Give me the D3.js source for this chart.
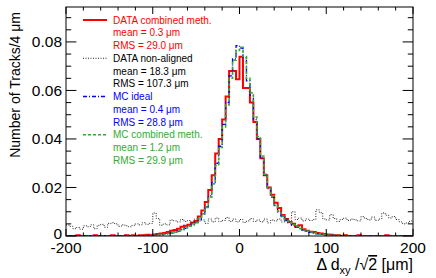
<!DOCTYPE html>
<html>
<head>
<meta charset="utf-8">
<script src="https://cdn.jsdelivr.net/npm/d3@7"></script>
<style>
  body { margin: 0; background: #fff; }
  svg { font-family: "Liberation Sans", Arial, sans-serif; }
  .tick-label { font-size: 15.5px; }
  .axis-title { font-size: 14px; }
  .legend-text { font-size: 10px; }
</style>
</head>
<body>
<div id="chart"></div>
<script>
// bin edges: 100 bins of 4 um from -200 to 200
var binLow = -200, binWidth = 4;

// DATA combined meth.
var dataCombined = [
  0, 0, 0, 0.0003, 0, 0, 0, 0, 0.0003, 0,
  0, 0, 0, 0.0003, 0, 0, 0, 0.0003, 0, 0.0003,
  0, 0.0003, 0.0003, 0.0005, 0.0003, 0.0006, 0.0008, 0.0010, 0.0012, 0.0016,
  0.0022, 0.0025, 0.0030, 0.0038, 0.0042, 0.0046, 0.0055, 0.0062, 0.0080, 0.0105,
  0.0140, 0.0190, 0.0250, 0.0340, 0.0400, 0.0480, 0.0575, 0.0680, 0.0680, 0.0646,
  0.0739, 0.0610, 0.0610, 0.0550, 0.0470, 0.0400, 0.0320, 0.0250, 0.0200, 0.0170,
  0.0137, 0.0115, 0.0087, 0.0070, 0.0058, 0.0050, 0.0040, 0.0044, 0.0028, 0.0022,
  0.0018, 0.0016, 0.0012, 0.0010, 0.0008, 0.0006, 0.0005, 0.0003, 0.0003, 0,
  0.0003, 0, 0, 0, 0.0003, 0, 0, 0, 0, 0,
  0, 0, 0.0003, 0, 0, 0, 0, 0, 0, 0
];

// DATA non-aligned
var dataNonAligned = [
  0.0045, 0.0040, 0.0030, 0.0035, 0.0028, 0.0042, 0.0038, 0.0046, 0.0030, 0.0044,
  0.0048, 0.0036, 0.0052, 0.0055, 0.0050, 0.0040, 0.0046, 0.0042, 0.0038, 0.0044,
  0.0050, 0.0046, 0.0055, 0.0048, 0.0052, 0.0095, 0.0072, 0.0044, 0.0050, 0.0046,
  0.0066, 0.0062, 0.0058, 0.0068, 0.0060, 0.0064, 0.0056, 0.0070, 0.0062, 0.0066,
  0.0052, 0.0070, 0.0058, 0.0074, 0.0060, 0.0064, 0.0076, 0.0060, 0.0070, 0.0058,
  0.0068, 0.0056, 0.0062, 0.0072, 0.0060, 0.0066, 0.0058, 0.0070, 0.0054, 0.0066,
  0.0062, 0.0070, 0.0058, 0.0072, 0.0064, 0.0100, 0.0068, 0.0074, 0.0062, 0.0070,
  0.0064, 0.0068, 0.0108, 0.0096, 0.0070, 0.0066, 0.0088, 0.0072, 0.0060, 0.0068,
  0.0074, 0.0064, 0.0070, 0.0066, 0.0062, 0.0080, 0.0072, 0.0066, 0.0078, 0.0064,
  0.0070, 0.0095, 0.0086, 0.0074, 0.0080, 0.0068, 0.0058, 0.0050, 0.0054, 0.0062
];

// MC ideal
var mcIdeal = [
  0, 0, 0, 0, 0, 0, 0, 0, 0, 0,
  0, 0, 0, 0, 0, 0, 0, 0.0002, 0, 0,
  0, 0, 0.0002, 0, 0.0002, 0.0003, 0.0004, 0.0005, 0.0007, 0.0009,
  0.0012, 0.0016, 0.0020, 0.0026, 0.0032, 0.0040, 0.0046, 0.0055, 0.0068, 0.0090,
  0.0120, 0.0165, 0.0220, 0.0300, 0.0370, 0.0460, 0.0550, 0.0660, 0.0730, 0.0785,
  0.0775, 0.0735, 0.0640, 0.0580, 0.0480, 0.0400, 0.0320, 0.0250, 0.0195, 0.0160,
  0.0125, 0.0100, 0.0080, 0.0064, 0.0054, 0.0044, 0.0036, 0.0030, 0.0024, 0.0019,
  0.0015, 0.0012, 0.0009, 0.0007, 0.0005, 0.0004, 0.0003, 0.0002, 0.0002, 0.0001,
  0, 0, 0, 0, 0, 0, 0, 0, 0, 0,
  0, 0, 0, 0, 0, 0, 0, 0, 0, 0
];

// MC combined meth.
var mcCombined = [
  0, 0, 0, 0, 0, 0, 0, 0, 0, 0,
  0, 0, 0, 0, 0, 0, 0, 0, 0, 0.0002,
  0, 0, 0, 0.0002, 0, 0.0003, 0.0004, 0.0006, 0.0007, 0.0010,
  0.0013, 0.0016, 0.0021, 0.0027, 0.0033, 0.0040, 0.0048, 0.0056, 0.0070, 0.0092,
  0.0118, 0.0160, 0.0215, 0.0290, 0.0365, 0.0450, 0.0540, 0.0650, 0.0725, 0.0765,
  0.0778, 0.0740, 0.0650, 0.0590, 0.0490, 0.0410, 0.0330, 0.0255, 0.0200, 0.0165,
  0.0128, 0.0102, 0.0082, 0.0066, 0.0055, 0.0046, 0.0038, 0.0031, 0.0025, 0.0020,
  0.0016, 0.0013, 0.0010, 0.0008, 0.0006, 0.0004, 0.0003, 0.0003, 0.0002, 0.0002,
  0, 0, 0, 0, 0, 0, 0, 0, 0, 0,
  0, 0, 0, 0, 0, 0, 0, 0, 0, 0
];

var xTicks = [-200, -100, 0, 100, 200];
var yTicks = [0, 0.02, 0.04, 0.06, 0.08];
var yTickLabels = ["0", "0.02", "0.04", "0.06", "0.08"];

// legend entries: name, mean, rms
var legendNames = ["DATA combined meth.", "DATA non-aligned", "MC ideal", "MC combined meth."];
var legendMeans = ["0.3", "18.3", "0.4", "1.2"];
var legendRms = ["29.0", "107.3", "28.8", "29.9"];

var width = 436, height = 278;
var margin = {top: 7, right: 23, bottom: 42, left: 66};
var plotW = width - margin.left - margin.right;
var plotH = height - margin.top - margin.bottom;

var series = [
  {values: dataCombined, color: "#ff0000", width: 2, dash: null},
  {values: dataNonAligned, color: "#222", width: 1, dash: "1,1.5"},
  {values: mcIdeal, color: "#0000ff", width: 1.3, dash: "4,2,1,2"},
  {values: mcCombined, color: "#33aa33", width: 1.6, dash: "3,2"}
];

var svg = d3.select("#chart").append("svg")
    .attr("width", width)
    .attr("height", height);

var x = d3.scaleLinear().domain([-200, 200]).range([0, plotW]);
var y = d3.scaleLinear().domain([0, 0.0944]).range([plotH, 0]);

var g = svg.append("g")
    .attr("transform", "translate(" + margin.left + "," + margin.top + ")");

g.append("clipPath").attr("id", "clip")
  .append("rect").attr("width", plotW).attr("height", plotH);

// histograms as step lines
var line = d3.line()
    .x(d => x(d[0]))
    .y(d => y(d[1]))
    .curve(d3.curveStepAfter);

series.forEach(function(s) {
  var pts = s.values.map((v, i) => [binLow + i * binWidth, v]);
  pts.push([binLow + s.values.length * binWidth, s.values[s.values.length - 1]]);
  g.append("path")
    .attr("clip-path", "url(#clip)")
    .attr("d", line(pts))
    .attr("fill", "none")
    .attr("stroke", s.color)
    .attr("stroke-width", s.width)
    .attr("stroke-dasharray", s.dash);
});

// frame
g.append("rect")
  .attr("width", plotW).attr("height", plotH)
  .attr("fill", "none").attr("stroke", "#000").attr("stroke-width", 1);

// ticks inside the frame, ROOT style
var xMajorLen = 7, xMinorLen = 3.5, yMajorLen = 10.4, yMinorLen = 5.2;
var xMinor = d3.range(-200, 201, 20);
var yMinor = d3.range(0, 0.0945, 0.005);

xMinor.forEach(function(v) {
  var len = (v % 100 === 0) ? xMajorLen : xMinorLen;
  g.append("line").attr("x1", x(v)).attr("x2", x(v))
    .attr("y1", plotH).attr("y2", plotH - len).attr("stroke", "#000");
  g.append("line").attr("x1", x(v)).attr("x2", x(v))
    .attr("y1", 0).attr("y2", len).attr("stroke", "#000");
});
yMinor.forEach(function(v, i) {
  var len = (i % 4 === 0) ? yMajorLen : yMinorLen;
  g.append("line").attr("x1", 0).attr("x2", len)
    .attr("y1", y(v)).attr("y2", y(v)).attr("stroke", "#000");
  g.append("line").attr("x1", plotW).attr("x2", plotW - len)
    .attr("y1", y(v)).attr("y2", y(v)).attr("stroke", "#000");
});

// tick labels
g.selectAll(".xlab").data(xTicks).enter().append("text")
  .attr("class", "tick-label")
  .attr("x", d => x(d)).attr("y", plotH + 16.5)
  .attr("text-anchor", "middle")
  .text(d => d);

// the "0" label sits just above the "-200" one, as in ROOT
g.selectAll(".ylab").data(yTicks).enter().append("text")
  .attr("class", "tick-label")
  .attr("x", -4).attr("y", d => y(d) + (d === 0 ? 2.5 : 5.5))
  .attr("text-anchor", "end")
  .text((d, i) => yTickLabels[i]);

// axis titles
svg.append("text")
  .attr("class", "axis-title")
  .attr("transform", "translate(20,12) rotate(-90)")
  .attr("text-anchor", "end")
  .text("Number of Tracks/4 \u03bcm");

var xt = svg.append("text")
  .attr("class", "axis-title")
  .style("font-size", "16px")
  .attr("x", margin.left + plotW).attr("y", 270)
  .attr("text-anchor", "end");
xt.append("tspan").text("\u0394 d");
xt.append("tspan").attr("dy", 4).style("font-size", "11px").text("xy");
xt.append("tspan").attr("dy", -4).text(" /\u221a");
xt.append("tspan").attr("text-decoration", "overline").text("2");
xt.append("tspan").text(" [\u03bcm]");

// legend
var legX = 83, legTextX = 113, legY = 20, lineStep = 12.75;
legendNames.forEach(function(name, i) {
  var s = series[i];
  var yy = legY + i * 3 * lineStep;
  svg.append("line")
    .attr("x1", legX).attr("x2", legX + 24)
    .attr("y1", yy).attr("y2", yy)
    .attr("stroke", s.color).attr("stroke-width", s.width)
    .attr("stroke-dasharray", s.dash);
  var textColor = i === 1 ? "#000" : s.color;
  var rows = [name, "mean = " + legendMeans[i] + " \u03bcm", "RMS = " + legendRms[i] + " \u03bcm"];
  rows.forEach(function(r, j) {
    svg.append("text")
      .attr("class", "legend-text")
      .attr("x", legTextX).attr("y", yy + j * lineStep + 3.5)
      .attr("fill", textColor)
      .text(r);
  });
});
</script>
</body>
</html>
